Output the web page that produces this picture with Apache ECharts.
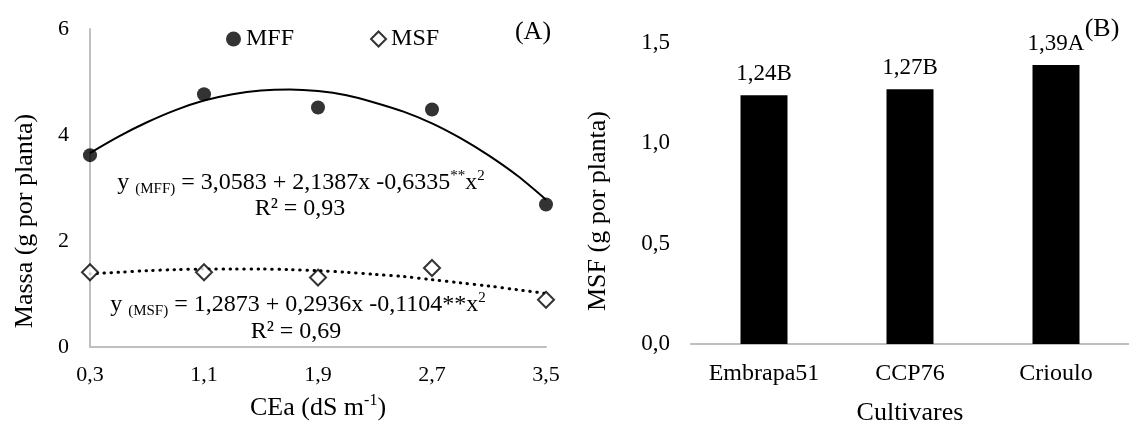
<!DOCTYPE html>
<html>
<head>
<meta charset="utf-8">
<script src="https://cdn.jsdelivr.net/npm/echarts@6/dist/echarts.min.js"></script>
<style>
  html, body { margin: 0; padding: 0; background: #fff; }
  #main { width: 1129px; height: 423px; }
</style>
</head>
<body>
<div id="main"></div>
<script>
// (A) massa x CEa
var ceaTicks = [0.3, 1.1, 1.9, 2.7, 3.5];
var mffPoints = [3.62, 4.77, 4.52, 4.48, 2.69];
var msfPoints = [1.41, 1.41, 1.31, 1.49, 0.89];
// trend lines
var fitX = [0.3, 0.5, 0.7, 0.9, 1.1, 1.3, 1.5, 1.7, 1.9, 2.1, 2.3, 2.5, 2.7, 2.9, 3.1, 3.3, 3.5];
var mffFit = [3.66, 3.97, 4.24, 4.47, 4.65, 4.77, 4.84, 4.86, 4.83, 4.75, 4.61, 4.44, 4.22, 3.94, 3.61, 3.23, 2.78];
var msfFit = [1.38, 1.41, 1.44, 1.46, 1.47, 1.47, 1.47, 1.46, 1.44, 1.41, 1.37, 1.33, 1.27, 1.21, 1.15, 1.08, 1.01];

// (B) MSF x cultivares
var cultivares = ['Embrapa51', 'CCP76', 'Crioulo'];
var msfCult = [1.24, 1.27, 1.39];
var letras = ['B', 'B', 'A'];

var FONT = "'Liberation Serif', 'Times New Roman', serif";
var AXIS_GRAY = '#bfbfbf';

function pairs(xs, ys) {
  return xs.map(function (x, i) { return [x, ys[i]]; });
}
function comma(v, d) {
  return v.toFixed(d).replace('.', ',');
}

var chart = echarts.init(document.getElementById('main'));

var option = {
  animation: false,
  textStyle: { fontFamily: FONT, color: '#000' },
  grid: [
    { left: 90, right: 583, top: 29, bottom: 76, outerBoundsMode: 'none', containLabel: false },
    { left: 691, right: 0, top: 43, bottom: 79, outerBoundsMode: 'none', containLabel: false }
  ],
  legend: {
    data: ['MFF', 'MSF'],
    left: 221,
    top: 22,
    itemGap: 76,
    itemWidth: 15,
    itemHeight: 15,
    itemStyle: { borderWidth: 2 },
    textStyle: { fontFamily: FONT, fontSize: 24, color: '#000' }
  },
  xAxis: [
    {
      gridIndex: 0,
      type: 'value',
      min: 0.3,
      max: 3.5,
      name: '{n|CEa (dS m}{sup|-1}{n|)}',
      nameLocation: 'middle',
      nameGap: 46,
      nameTextStyle: {
        fontFamily: FONT, color: '#000',
        rich: {
          n: { fontFamily: FONT, fontSize: 26, color: '#000', lineHeight: 30 },
          sup: { fontFamily: FONT, fontSize: 16, color: '#000', lineHeight: 14, verticalAlign: 'top' }
        }
      },
      axisLine: { show: true, lineStyle: { color: AXIS_GRAY, width: 2 } },
      axisTick: { show: false, customValues: ceaTicks },
      splitLine: { show: false },
      axisLabel: {
        customValues: ceaTicks,
        margin: 17,
        fontSize: 22,
        fontFamily: FONT,
        color: '#000',
        formatter: function (v) { return comma(v, 1); }
      }
    },
    {
      gridIndex: 1,
      type: 'category',
      data: cultivares,
      name: 'Cultivares',
      nameLocation: 'middle',
      nameGap: 56,
      nameTextStyle: { fontFamily: FONT, fontSize: 26, color: '#000' },
      axisLine: { lineStyle: { color: AXIS_GRAY, width: 2 } },
      axisTick: { show: false },
      axisLabel: { margin: 18, fontSize: 24, fontFamily: FONT, color: '#000' }
    }
  ],
  yAxis: [
    {
      gridIndex: 0,
      type: 'value',
      min: 0,
      max: 6,
      interval: 2,
      name: 'Massa (g por planta)',
      nameLocation: 'middle',
      nameGap: 52,
      nameTextStyle: { fontFamily: FONT, fontSize: 26, color: '#000', padding: [0, 66, 0, 0] },
      axisLine: { show: true, lineStyle: { color: AXIS_GRAY, width: 2 } },
      axisTick: { show: false },
      splitLine: { show: false },
      axisLabel: { margin: 21, fontSize: 22, fontFamily: FONT, color: '#000' }
    },
    {
      gridIndex: 1,
      type: 'value',
      min: 0,
      max: 1.5,
      interval: 0.5,
      name: 'MSF (g por planta)',
      nameLocation: 'middle',
      nameGap: 80,
      nameTextStyle: { fontFamily: FONT, fontSize: 26, color: '#000', padding: [0, 35, 0, 0] },
      axisLine: { show: false },
      axisTick: { show: false },
      splitLine: { show: false },
      axisLabel: {
        margin: 21, fontSize: 23, fontFamily: FONT, color: '#000',
        formatter: function (v) { return comma(v, 1); }
      }
    }
  ],
  series: [
    {
      name: 'MFF fit',
      type: 'line',
      xAxisIndex: 0, yAxisIndex: 0,
      data: pairs(fitX, mffFit),
      smooth: 0.3,
      showSymbol: false,
      lineStyle: { color: '#000', width: 2 },
      z: 2
    },
    {
      name: 'MSF fit',
      type: 'line',
      xAxisIndex: 0, yAxisIndex: 0,
      data: pairs(fitX, msfFit),
      smooth: 0.3,
      showSymbol: false,
      lineStyle: { color: '#000', width: 3, type: [0.5, 6.5], cap: 'round' },
      z: 2
    },
    {
      name: 'MFF',
      type: 'scatter',
      xAxisIndex: 0, yAxisIndex: 0,
      data: pairs(ceaTicks, mffPoints),
      symbol: 'circle',
      symbolSize: 14,
      itemStyle: { color: '#000' },
      z: 5
    },
    {
      name: 'MSF',
      type: 'scatter',
      xAxisIndex: 0, yAxisIndex: 0,
      data: pairs(ceaTicks, msfPoints),
      symbol: 'diamond',
      symbolSize: [16, 16],
      itemStyle: { color: '#fff', borderColor: '#000', borderWidth: 2 },
      z: 5
    },
    {
      name: 'MSF cultivar',
      type: 'bar',
      xAxisIndex: 1, yAxisIndex: 1,
      data: msfCult,
      barWidth: 47,
      itemStyle: { color: '#000' },
      label: {
        show: true,
        position: 'top',
        distance: 10,
        fontFamily: FONT,
        fontSize: 23,
        color: '#000',
        formatter: function (p) { return comma(p.value, 2) + letras[p.dataIndex]; }
      }
    }
  ],
  graphic: [
    {
      type: 'text', x: 533, y: 32,
      style: { text: '(A)', fontFamily: FONT, fontSize: 26, fill: '#000', align: 'center', verticalAlign: 'middle' }
    },
    {
      type: 'text', x: 1102, y: 29,
      style: { text: '(B)', fontFamily: FONT, fontSize: 26, fill: '#000', align: 'center', verticalAlign: 'middle' }
    },
    {
      type: 'text', x: 301, y: 183,
      style: {
        text: '{b|y }{s|(MFF)}{b| = 3,0583 + 2,1387x -0,6335}{p|**}{b|x}{p|2}',
        align: 'center', verticalAlign: 'middle',
        rich: {
          b: { fontFamily: FONT, fontSize: 24, fill: '#000', lineHeight: 28 },
          s: { fontFamily: FONT, fontSize: 15, fill: '#000', lineHeight: 12, verticalAlign: 'bottom' },
          p: { fontFamily: FONT, fontSize: 15, fill: '#000', lineHeight: 16, verticalAlign: 'top' }
        }
      }
    },
    {
      type: 'text', x: 300, y: 209,
      style: { text: 'R² = 0,93', fontFamily: FONT, fontSize: 24, fill: '#000', align: 'center', verticalAlign: 'middle' }
    },
    {
      type: 'text', x: 298, y: 305,
      style: {
        text: '{b|y }{s|(MSF)}{b| = 1,2873 + 0,2936x -0,1104**x}{p|2}',
        align: 'center', verticalAlign: 'middle',
        rich: {
          b: { fontFamily: FONT, fontSize: 24, fill: '#000', lineHeight: 28 },
          s: { fontFamily: FONT, fontSize: 15, fill: '#000', lineHeight: 12, verticalAlign: 'bottom' },
          p: { fontFamily: FONT, fontSize: 15, fill: '#000', lineHeight: 16, verticalAlign: 'top' }
        }
      }
    },
    {
      type: 'text', x: 296, y: 332,
      style: { text: 'R² = 0,69', fontFamily: FONT, fontSize: 24, fill: '#000', align: 'center', verticalAlign: 'middle' }
    }
  ]
};

chart.setOption(option);
</script>
</body>
</html>
